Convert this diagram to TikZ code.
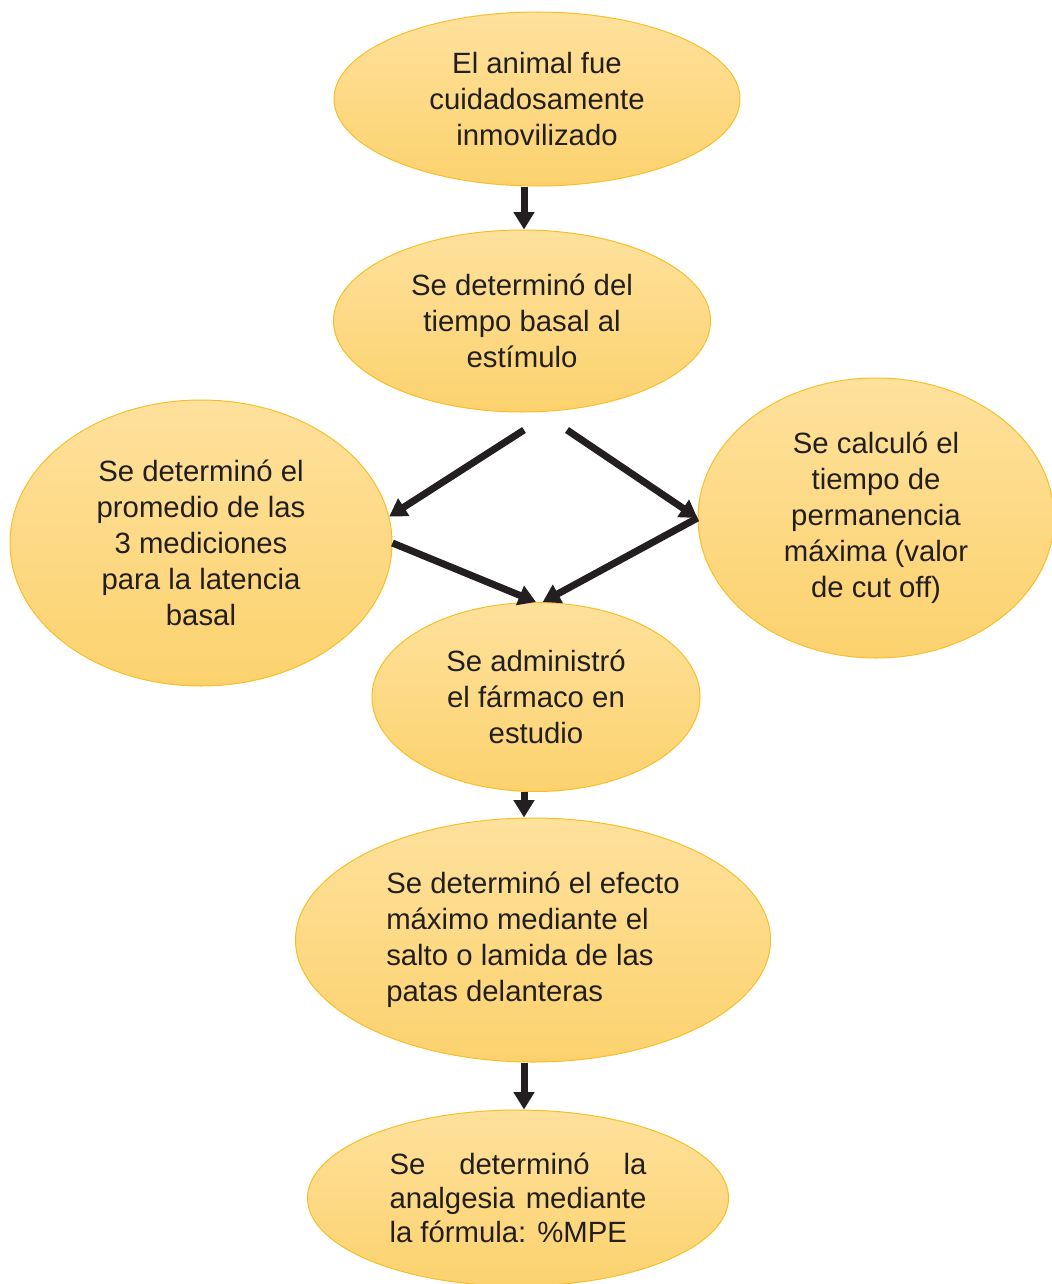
\documentclass[tikz,border=0pt]{standalone}
\usepackage{fontspec}
\setmainfont{Liberation Sans}
\usepackage{xcolor}
\usetikzlibrary{shapes.geometric,arrows.meta}
\definecolor{rellenoA}{RGB}{254,225,156}
\definecolor{rellenoB}{RGB}{252,210,110}
\definecolor{borde}{RGB}{248,190,40}
\definecolor{tinta}{RGB}{35,31,32}

\begin{document}
\begin{tikzpicture}[x=0.75pt,y=0.75pt,yscale=-1,xscale=1,
    burbuja/.style={ellipse,draw=borde,line width=0.75pt,top color=rellenoA,bottom color=rellenoB,inner sep=0pt,text=tinta,font=\fontsize{22}{27}\selectfont,align=center},
    flecha/.style={draw=tinta,line width=5.25pt,-{Triangle[length=13pt,width=15pt]}}]
        \useasboundingbox (0,0) rectangle (1052,1284);

        \node [burbuja,minimum width=406*0.75pt,minimum height=174*0.75pt] (n1) at (537,99) {El animal fue\\cuidadosamente\\inmovilizado};
        \node [burbuja,minimum width=377*0.75pt,minimum height=182*0.75pt] (n2) at (522,321) {Se determinó del\\tiempo basal al\\estímulo};
        \node [burbuja,minimum width=382*0.75pt,minimum height=286*0.75pt] (n3) at (201,543) {Se determinó el\\promedio de las\\3 mediciones\\para la latencia\\basal};
        \node [burbuja,minimum width=356*0.75pt,minimum height=280*0.75pt] (n4) at (876,518) {Se calculó el\\tiempo de\\permanencia\\máxima (valor\\de cut off)};
        \node [burbuja,minimum width=328*0.75pt,minimum height=189*0.75pt] (n5) at (536,697) {Se administró\\el fármaco en\\estudio};
        \node [burbuja,align=left,minimum width=475*0.75pt,minimum height=244*0.75pt] (n6) at (533,940) {Se determinó el efecto\\máximo mediante el\\salto o lamida de las\\patas delanteras};
        \node [burbuja,align=left,font=\fontsize{22}{25.5}\selectfont,minimum width=421*0.75pt,minimum height=176*0.75pt] (n7) at (518,1198) {\makebox[192.75pt][s]{Se determinó la}\\\makebox[192.75pt][s]{analgesia mediante}\\la fórmula: \%MPE};

        \coordinate (eje) at (524,0);
        \coordinate (bif1) at (524,430);
        \coordinate (bif2) at (567,430);

        \draw [flecha] (n1.south -| eje) -- (n2.north -| eje);
        \draw [flecha] (bif1) -- (n3.8);
        \draw [flecha] (bif2) -- (n4.west);
        \draw [flecha] (n3.east) -- (n5.north);
        \draw [flecha] (n4.west) -- (n5.86);
        \draw [flecha] (n5.south -| eje) -- (n6.north -| eje);
        \draw [flecha] (n6.south -| eje) -- (n7.north -| eje);
    \end{tikzpicture}
\end{document}
